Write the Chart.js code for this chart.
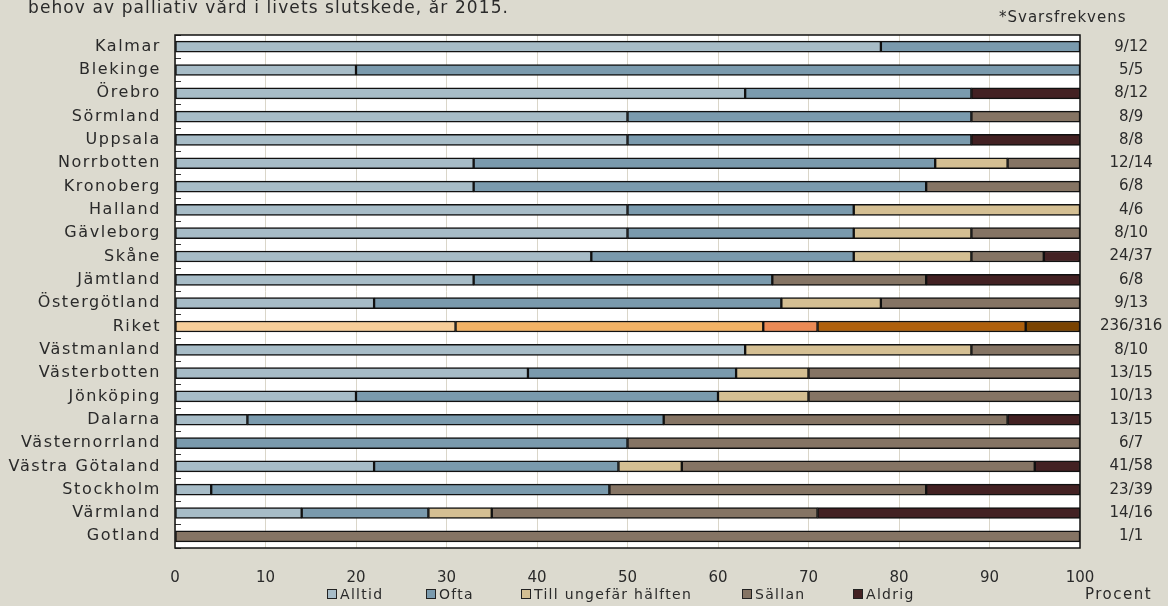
<!DOCTYPE html>
<html><head><meta charset="utf-8">
<script src="https://cdn.jsdelivr.net/npm/chart.js@4.4.1/dist/chart.umd.min.js"></script>
<style>
html,body{margin:0;padding:0;background:#DCDACF;}
#wrap{position:relative;width:1168px;height:606px;overflow:hidden;font-family:"DejaVu Sans",sans-serif;color:#2a2a2a;background:#DCDACF;}
#title{position:absolute;left:28px;top:-3px;font-size:17px;letter-spacing:1.1px;white-space:nowrap;}
#svar{position:absolute;left:999px;top:8px;font-size:15px;letter-spacing:1px;white-space:nowrap;}
#procent{position:absolute;left:1085px;top:585px;font-size:15px;letter-spacing:1.5px;white-space:nowrap;}
.lg{position:absolute;top:585px;height:18px;display:flex;align-items:center;font-size:14px;letter-spacing:1.3px;white-space:nowrap;}
.lg i{display:inline-block;width:8px;height:8px;border:1.5px solid #222;margin-right:3px;}
canvas{position:absolute;left:0;top:0;}
</style></head><body>
<div id="wrap">
<canvas id="c" width="1168" height="606"></canvas>
<div id="title">behov av palliativ vård i livets slutskede, år 2015.</div>
<div id="svar">*Svarsfrekvens</div>
<div id="procent">Procent</div>
</div>
<script>
const categories = ["Kalmar","Blekinge","Örebro","Sörmland","Uppsala","Norrbotten","Kronoberg","Halland","Gävleborg","Skåne","Jämtland","Östergötland","Riket","Västmanland","Västerbotten","Jönköping","Dalarna","Västernorrland","Västra Götaland","Stockholm","Värmland","Gotland"];
const responses = ["9/12","5/5","8/12","8/9","8/8","12/14","6/8","4/6","8/10","24/37","6/8","9/13","236/316","8/10","13/15","10/13","13/15","6/7","41/58","23/39","14/16","1/1"];
const seriesNames = ["Alltid","Ofta","Till ungefär hälften","Sällan","Aldrig"];
const alltid = [78,20,63,50,50,33,33,50,50,46,33,22,31,63,39,20,8,0,22,4,14,0];
const ofta   = [22,80,25,38,38,51,50,25,25,29,33,45,34,0,23,40,46,50,27,44,14,0];
const hälften= [0,0,0,0,0,8,0,25,13,13,0,11,6,25,8,10,0,0,7,0,7,0];
const sällan = [0,0,0,12,0,8,17,0,12,8,17,22,23,12,30,30,38,50,39,35,36,100];
const aldrig = [0,0,12,0,12,0,0,0,0,4,17,0,6,0,0,0,8,0,5,17,29,0];
const xTicks = [0,10,20,30,40,50,60,70,80,90,100];
const baseColors = ["#A7BCC7","#7A9AAD","#D4BF93","#857464","#432123"];
const riketColors = ["#F6CD99","#F2B265","#EB8A55","#AF600C","#7A4300"];
const riketIndex = categories.indexOf("Riket");
const values = [alltid, ofta, hälften, sällan, aldrig];
const legendX = [327, 426, 521, 742, 853];

// HTML legend
const wrap = document.getElementById("wrap");
seriesNames.forEach((name, i) => {
  const d = document.createElement("div");
  d.className = "lg";
  d.style.left = legendX[i] + "px";
  const box = document.createElement("i");
  box.style.background = baseColors[i];
  d.appendChild(box);
  d.appendChild(document.createTextNode(name));
  wrap.appendChild(d);
});

const datasets = values.map((arr, i) => ({
  label: seriesNames[i],
  data: arr.map(v => v === 0 ? null : v),
  backgroundColor: ctx => (ctx.dataIndex === riketIndex ? riketColors[i] : baseColors[i]),
  borderColor: "#111",
  borderWidth: 1.5,
  borderSkipped: false,
  barThickness: 11,
  yAxisID: "y"
}));

const bgPlugin = {
  id: "bg",
  beforeDraw(chart) {
    const {ctx, chartArea: a} = chart;
    ctx.save();
    ctx.fillStyle = "#DCDACF";
    ctx.fillRect(0, 0, chart.width, chart.height);
    ctx.fillStyle = "#FFFFFF";
    ctx.fillRect(a.left, a.top, a.right - a.left, a.bottom - a.top);
    ctx.restore();
  },
  afterDatasetsDraw(chart) {
    const {ctx, chartArea: a} = chart;
    ctx.save();
    ctx.strokeStyle = "#111";
    ctx.lineWidth = 1.5;
    ctx.strokeRect(a.left, a.top, a.right - a.left, a.bottom - a.top);
    ctx.restore();
  }
};

function spacedLabels(s, spacing) {
  if (s._spaced) return;
  s._spaced = true;
  const orig = s.drawLabels.bind(s);
  s.drawLabels = (area) => {
    const c = s.ctx;
    const prev = c.letterSpacing;
    c.letterSpacing = spacing;
    orig(area);
    c.letterSpacing = prev || "0px";
  };
}

new Chart(document.getElementById("c"), {
  type: "bar",
  data: { labels: categories, datasets },
  plugins: [bgPlugin],
  options: {
    responsive: false,
    animation: false,
    indexAxis: "y",
    layout: { padding: { top: 35, left: 0, right: 0, bottom: 0 } },
    plugins: {
      legend: { display: false },
      tooltip: { enabled: false },
      title: { display: false }
    },
    scales: {
      x: {
        stacked: true, min: 0, max: 100,
        afterBuildTicks: s => { s.ticks = xTicks.map(v => ({ value: v })); },
        afterFit: s => { s.height = 58; },
        grid: { color: "#DAD6C9", drawTicks: false },
        border: { display: false },
        ticks: { padding: 21, color: "#2a2a2a", font: { family: "DejaVu Sans", size: 15 } }
      },
      y: {
        stacked: true,
        afterFit: s => { s.width = 175; spacedLabels(s, "1.6px"); },
        grid: { display: true, drawOnChartArea: false, drawTicks: true, tickLength: -6, color: "#333", lineWidth: 1 },
        border: { display: false },
        ticks: { autoSkip: false, padding: 20, color: "#2a2a2a", font: { family: "DejaVu Sans", size: 16 } }
      },
      y2: {
        type: "category",
        labels: responses,
        position: "right",
        offset: true,
        afterFit: s => { s.width = 88; },
        grid: { display: false, drawTicks: false },
        border: { display: false },
        ticks: { autoSkip: false, crossAlign: "center", padding: 20, color: "#2a2a2a", font: { family: "DejaVu Sans", size: 15 } }
      }
    }
  }
});
</script>
</body></html>
